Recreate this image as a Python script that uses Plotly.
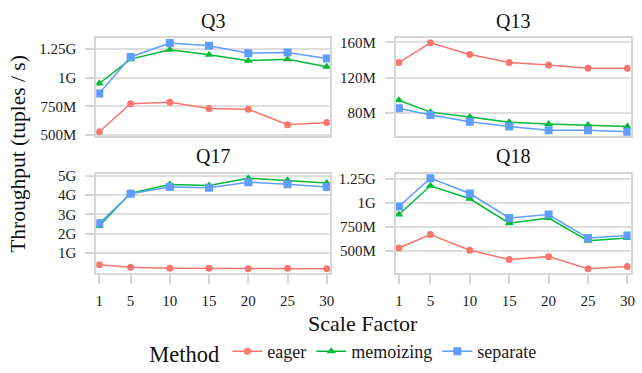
import plotly.graph_objects as go

# ---------------- data (throughput in millions of tuples / s) ----------------
scale_factor = [1, 5, 10, 15, 20, 25, 30]
methods = ["eager", "memoizing", "separate"]
panels = ["Q3", "Q13", "Q17", "Q18"]

q3_eager = [528, 772, 785, 731, 725, 590, 609]
q3_memoizing = [948, 1160, 1241, 1198, 1147, 1160, 1094]
q3_separate = [862, 1179, 1301, 1277, 1212, 1217, 1165]

q13_eager = [137.1, 159.4, 146.3, 137.1, 134.3, 130.8, 130.8]
q13_memoizing = [94.5, 81.1, 75.5, 69.7, 67.6, 66.6, 64.9]
q13_separate = [85.6, 77.9, 70.2, 64.9, 60.6, 60.6, 58.8]

q17_eager = [400, 280, 230, 230, 200, 220, 200]
q17_memoizing = [2400, 4100, 4540, 4490, 4870, 4760, 4620]
q17_separate = [2540, 4070, 4410, 4370, 4660, 4560, 4410]

q18_eager = [530, 669, 507, 411, 441, 316, 339]
q18_memoizing = [877, 1175, 1040, 788, 841, 606, 633]
q18_separate = [960, 1254, 1095, 841, 877, 633, 659]

x_ticks = [1, 5, 10, 15, 20, 25, 30]
q3_ticks = [500, 750, 1000, 1250]
q3_ticktext = ["500M", "750M", "1G", "1.25G"]
q13_ticks = [80, 120, 160]
q13_ticktext = ["80M", "120M", "160M"]
q17_ticks = [1000, 2000, 3000, 4000, 5000]
q17_ticktext = ["1G", "2G", "3G", "4G", "5G"]
q18_ticks = [500, 750, 1000, 1250]
q18_ticktext = ["500M", "750M", "1G", "1.25G"]

series = {
    "Q3": [q3_eager, q3_memoizing, q3_separate],
    "Q13": [q13_eager, q13_memoizing, q13_separate],
    "Q17": [q17_eager, q17_memoizing, q17_separate],
    "Q18": [q18_eager, q18_memoizing, q18_separate],
}
ticks = {
    "Q3": (q3_ticks, q3_ticktext),
    "Q13": (q13_ticks, q13_ticktext),
    "Q17": (q17_ticks, q17_ticktext),
    "Q18": (q18_ticks, q18_ticktext),
}

# ---------------- styles ----------------
W, H = 642, 373
FONT = "Liberation Serif, serif"
colors = {"eager": "#F8766D", "memoizing": "#00BA38", "separate": "#619CFF"}
symbols = {"eager": "circle", "memoizing": "triangle-up", "separate": "square"}
msizes = {"eager": 7, "memoizing": 8, "separate": 8}
GRID = "#dedede"
BORDER = "#d6d6d6"

# panel boxes in pixels: (left, right, top, bottom)
boxes = {
    "Q3": (96, 331.5, 34, 136.5),
    "Q13": (398, 634.5, 34, 136.5),
    "Q17": (96, 331.5, 175.5, 280),
    "Q18": (398, 634.5, 175.5, 280),
}
yranges = {
    "Q3": [489, 1340],
    "Q13": [53.8, 164.4],
    "Q17": [-33, 5110],
    "Q18": [269, 1302],
}
x_range = [0.62, 30.4]

fig = go.Figure()
layout = {}
annotations = []

for i, p in enumerate(panels):
    n = "" if i == 0 else str(i + 1)
    xa, ya = "x" + n, "y" + n
    for m, vals in zip(methods, series[p]):
        fig.add_trace(go.Scatter(
            x=scale_factor, y=vals, mode="lines+markers", name=m,
            legendgroup=m, showlegend=(i == 0),
            line=dict(color=colors[m], width=1.5),
            marker=dict(color=colors[m], symbol=symbols[m], size=msizes[m]),
            xaxis=xa, yaxis=ya,
        ))
    l, r, t, b = boxes[p]
    bottom_row = p in ("Q17", "Q18")
    layout["xaxis" + n] = dict(
        domain=[l / W, r / W], range=x_range, anchor=ya,
        tickvals=x_ticks, showticklabels=bottom_row,
        ticks="outside" if bottom_row else "", ticklen=9, tickwidth=1.5, tickcolor=BORDER,
        ticklabelstandoff=4,
        showgrid=False, zeroline=False,
        showline=True, linecolor=BORDER, linewidth=2, mirror=True,
        tickfont=dict(family=FONT, size=15, color="#1a1a1a"),
    )
    tv, tt = ticks[p]
    layout["yaxis" + n] = dict(
        domain=[1 - b / H, 1 - t / H], range=yranges[p], anchor=xa,
        tickvals=tv, ticktext=tt, ticks="outside", ticklen=9, tickwidth=1.5,
        tickcolor=BORDER, ticklabelstandoff=6,
        showgrid=True, gridcolor=GRID, gridwidth=1.5,
        zeroline=False, showline=True, linecolor=BORDER, linewidth=2, mirror=True,
        tickfont=dict(family=FONT, size=15, color="#1a1a1a"),
    )
    annotations.append(dict(
        text=p, x=(l + r) / 2 / W, y=1 - (t - 18) / H, xref="paper", yref="paper",
        xanchor="center", yanchor="middle", showarrow=False,
        font=dict(family=FONT, size=20, color="#111"),
    ))

annotations.append(dict(
    text="Throughput (tuples / s)", x=17 / W, y=1 - 155 / H, xref="paper", yref="paper",
    xanchor="center", yanchor="middle", textangle=-90, showarrow=False,
    font=dict(family=FONT, size=21.5, color="#111"),
))
annotations.append(dict(
    text="Scale Factor", x=365 / W, y=1 - 333 / H, xref="paper", yref="paper",
    xanchor="center", yanchor="middle", showarrow=False,
    font=dict(family=FONT, size=22, color="#111"),
))

fig.update_layout(
    width=W, height=H, margin=dict(l=0, r=0, t=0, b=0),
    paper_bgcolor="white", plot_bgcolor="white",
    annotations=annotations,
    legend=dict(
        orientation="h", x=346 / W, y=1 - 364 / H, xanchor="center", yanchor="middle",
        title=dict(text="Method", side="left", font=dict(family=FONT, size=22.5, color="#111")),
        font=dict(family=FONT, size=18, color="#1a1a1a"),
        itemwidth=30, tracegroupgap=0,
    ),
    **layout,
)

fig.write_html("out.html")
